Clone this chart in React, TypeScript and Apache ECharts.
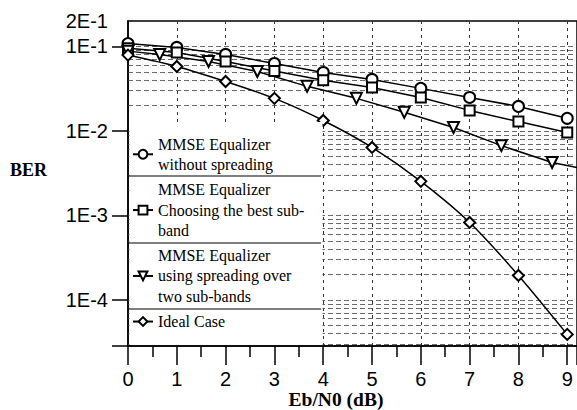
import React, { useEffect, useRef } from 'react';
import * as echarts from 'echarts';

// Eb/N0 (dB) positions of the markers
const ebN0 = [0, 1, 2, 3, 4, 5, 6, 7, 8, 9];
const ebN0Spreading = [0, 0.65, 1.65, 2.65, 3.67, 4.68, 5.66, 6.67, 7.65, 8.69, 9.2];

// BER values
const berNoSpreading = [0.108, 0.0973, 0.0804, 0.0629, 0.0492, 0.0407, 0.0319, 0.0249, 0.0195, 0.0141];
const berBestSubband = [0.095, 0.0849, 0.0664, 0.0511, 0.0399, 0.0327, 0.0249, 0.0175, 0.0129, 0.0096];
const berSpreading = [0.088, 0.0804, 0.0665, 0.0506, 0.0337, 0.0243, 0.0166, 0.011, 0.0067, 0.00423, 0.0037];
const berIdeal = [0.079, 0.058, 0.0385, 0.0243, 0.0133, 0.00638, 0.00253, 0.000826, 0.000195, 0.0000391];

const seriesNames = [
  'MMSE Equalizer\nwithout spreading',
  'MMSE Equalizer\nChoosing the best sub-\nband',
  'MMSE Equalizer\nusing spreading over\ntwo sub-bands',
  'Ideal Case',
];

// axis ticks
const yMin = 0.0000285;
const yMax = 0.2;
const yTickValues = [0.2, 0.1, 0.01, 0.001, 0.0001];
const yTickLabels = ['2E-1', '1E-1', '1E-2', '1E-3', '1E-4'];
const yTickMarks = [0.0000285, 0.0001, 0.001, 0.01, 0.1];
const xTickLabels = ['0', '1', '2', '3', '4', '5', '6', '7', '8', '9'];

// horizontal grid lines (log-decade subdivisions)
const gridMantissas = [1, 2, 3, 4, 5, 6, 7, 8, 9];
const gridDecades = [0.00001, 0.0001, 0.001, 0.01, 0.1];

export default function App() {
  const ref = useRef<HTMLDivElement>(null);

  useEffect(() => {
    if (!ref.current) return;
    const chart = echarts.init(ref.current, undefined, { renderer: 'svg' });

    const gridValues: number[] = [];
    gridDecades.forEach((d) => {
      gridMantissas.forEach((m) => {
        const v = m * d;
        if (v >= yMin && v <= 0.1000001) gridValues.push(v);
      });
    });

    const black = '#000';
    const mk = (name: string, xs: number[], ys: number[], symbol: string, size: number, extra: any = {}) => ({
      name,
      type: 'line',
      data: xs.map((x, i) => [x, ys[i]]),
      symbol,
      symbolSize: size,
      color: black,
      lineStyle: { color: black, width: 1.5 },
      itemStyle: { color: black, borderWidth: 1.4 },
      z: 2,
      ...extra,
    });

    const spreadingData = ebN0Spreading.map((x, i) =>
      i === ebN0Spreading.length - 1 ? { value: [x, berSpreading[i]], symbol: 'none' } : [x, berSpreading[i]]
    );

    const option: any = {
      animation: false,
      backgroundColor: '#fff',
      grid: {
        left: 128,
        right: -9,
        top: 21,
        bottom: 64,
        show: true,
        borderColor: black,
        borderWidth: 1.5,
        backgroundColor: 'transparent',
      },
      legend: {
        data: seriesNames,
        orient: 'vertical',
        left: 132,
        top: 134,
        padding: 0,
        itemGap: 5,
        itemWidth: 20,
        itemHeight: 11,
        selectedMode: false,
        z: 5,
        textStyle: { fontFamily: 'Liberation Serif', fontSize: 16, lineHeight: 20.3, color: black },
      },
      xAxis: {
        type: 'value',
        min: 0,
        max: 9.2,
        interval: 1,
        axisLine: { show: true, lineStyle: { color: black, width: 1.5 } },
        axisTick: { show: true, length: 19, lineStyle: { color: black, width: 1.5 } },
        minorTick: { show: true, splitNumber: 2, length: 11, lineStyle: { color: black, width: 1.5 } },
        splitLine: { show: true, lineStyle: { color: '#333', type: [3, 4], width: 1 } },
        axisLabel: {
          margin: 23,
          fontFamily: 'Liberation Sans',
          fontSize: 20,
          color: black,
          showMaxLabel: false,
          formatter: (v: number) => {
            const r = Math.round(v);
            return Math.abs(v - r) < 1e-6 && r >= 0 && r < xTickLabels.length ? xTickLabels[r] : '';
          },
        },
      },
      yAxis: {
        type: 'log',
        logBase: 10,
        min: yMin,
        max: yMax,
        axisLine: { show: true, lineStyle: { color: black, width: 1.5 } },
        axisTick: { show: true, length: 16, customValues: yTickMarks, lineStyle: { color: black, width: 1.5 } },
        splitLine: { show: false },
        axisLabel: {
          margin: 20,
          fontFamily: 'Liberation Sans',
          fontSize: 20,
          color: black,
          showMaxLabel: true,
          showMinLabel: true,
          customValues: yTickValues,
          formatter: (v: number) => {
            for (let i = 0; i < yTickValues.length; i++) {
              if (Math.abs(Math.log10(v) - Math.log10(yTickValues[i])) < 0.01) return yTickLabels[i];
            }
            return '';
          },
        },
      },
      series: [
        mk(seriesNames[0], ebN0, berNoSpreading, 'emptyCircle', 11),
        mk(seriesNames[1], ebN0, berBestSubband, 'emptyRect', 10),
        { ...mk(seriesNames[2], [], [], 'emptyTriangle', 11, { symbolRotate: 180 }), data: spreadingData },
        mk(seriesNames[3], ebN0, berIdeal, 'emptyDiamond', 11, { smooth: 0.25 }),
        {
          name: 'grid',
          type: 'line',
          silent: true,
          data: [
            [0, yMin],
            [0, yMax],
          ],
          showSymbol: false,
          symbol: 'none',
          lineStyle: { width: 0, opacity: 0 },
          z: 1,
          markLine: {
            silent: true,
            z: 1,
            precision: 12,
            symbol: 'none',
            label: { show: false },
            lineStyle: { color: '#444', type: [5, 3], width: 0.8 },
            data: gridValues.map((v) => ({ yAxis: v })),
          },
        },
      ],
      graphic: {
        elements: [
          {
            type: 'rect',
            silent: true,
            z: 3,
            shape: { x: 129.5, y: 122, width: 193, height: 223 },
            style: { fill: '#fff' },
          },
          { type: 'line', z: 4, silent: true, shape: { x1: 128, y1: 176, x2: 321, y2: 176 }, style: { stroke: black, lineWidth: 1.2 } },
          { type: 'line', z: 4, silent: true, shape: { x1: 128, y1: 243, x2: 321, y2: 243 }, style: { stroke: black, lineWidth: 1.2 } },
          { type: 'line', z: 4, silent: true, shape: { x1: 128, y1: 309, x2: 321, y2: 309 }, style: { stroke: black, lineWidth: 1.2 } },
          {
            type: 'text',
            z: 4,
            style: { text: 'BER', x: 10, y: 170, verticalAlign: 'middle', font: 'bold 18px "Liberation Serif"', fill: black },
          },
          {
            type: 'text',
            z: 4,
            style: { text: 'Eb/N0 (dB)', x: 336, y: 399, align: 'center', verticalAlign: 'middle', font: 'bold 19.5px "Liberation Serif"', fill: black },
          },
        ],
      },
    };

    chart.setOption(option);
    return () => chart.dispose();
  }, []);

  return <div ref={ref} style={{ position: 'absolute', left: 0, top: 0, width: 577, height: 410 }} />;
}
